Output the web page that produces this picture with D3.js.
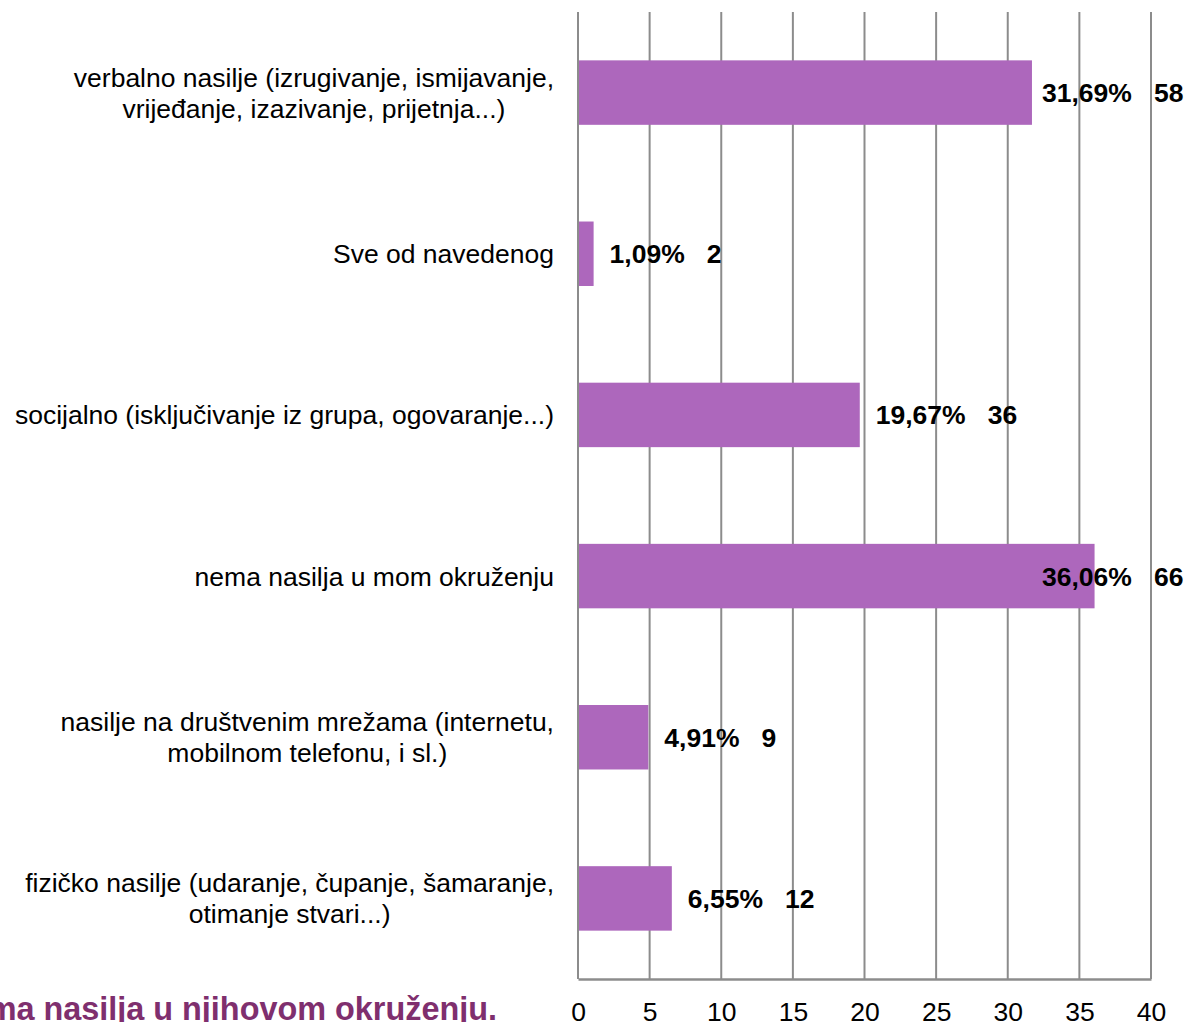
<!DOCTYPE html>
<html>
<head>
<meta charset="utf-8">
<script src="https://cdn.jsdelivr.net/npm/d3@7"></script>
<style>
  body { margin: 0; background: #fff; }
  svg { display: block; font-family: "Liberation Sans", Arial, sans-serif; }
</style>
</head>
<body>
<div id="chart"></div>
<script>
// data, top to bottom as in the picture
var categories = [
  ["verbalno nasilje (izrugivanje, ismijavanje,", "vrijeđanje, izazivanje, prijetnja...)"],
  ["Sve od navedenog"],
  ["socijalno (isključivanje iz grupa, ogovaranje...)"],
  ["nema nasilja u mom okruženju"],
  ["nasilje na društvenim mrežama (internetu,", "mobilnom telefonu, i sl.)"],
  ["fizičko nasilje (udaranje, čupanje, šamaranje,", "otimanje stvari...)"]
];
var percents = [31.69, 1.09, 19.67, 36.06, 4.91, 6.55];
var counts = [58, 2, 36, 66, 9, 12];
var xTicks = [0, 5, 10, 15, 20, 25, 30, 35, 40];
var footerText = "Većina učenika navodi da nema nasilja u njihovom okruženju.";

var W = 1189, H = 1022;
var plot = {left: 578, right: 1151, top: 12, bottom: 979};

var svg = d3.select("#chart").append("svg")
  .attr("width", W)
  .attr("height", H);

var x = d3.scaleLinear().domain([0, 40]).range([plot.left, plot.right]);
var y = d3.scaleBand()
  .domain(d3.range(categories.length))
  .range([plot.top, plot.bottom])
  .paddingInner(0.6)
  .paddingOuter(0.3);

// gridlines
svg.append("g")
  .selectAll("line")
  .data(xTicks)
  .enter().append("line")
    .attr("x1", d => x(d)).attr("x2", d => x(d))
    .attr("y1", plot.top).attr("y2", plot.bottom)
    .attr("stroke", "#8c8c8c")
    .attr("stroke-width", 2);

// bottom axis
var xAxis = svg.append("g")
  .attr("transform", "translate(0," + plot.bottom + ")")
  .call(d3.axisBottom(x).tickValues(xTicks).tickSize(0).tickPadding(23));
xAxis.select(".domain").attr("stroke", "#8c8c8c").attr("stroke-width", 2.5);
xAxis.selectAll("text")
  .attr("fill", "#000")
  .style("font-size", "26.5px")
  .style("font-family", "'Liberation Sans', Arial, sans-serif");

// bars
svg.append("g")
  .selectAll("rect")
  .data(percents)
  .enter().append("rect")
    .attr("x", x(0) + 1)
    .attr("y", (d, i) => y(i))
    .attr("width", d => x(d) - x(0) - 1)
    .attr("height", y.bandwidth())
    .attr("fill", "#ad67bc");

// value labels
svg.append("g")
  .selectAll("text")
  .data(percents)
  .enter().append("text")
    .attr("x", d => Math.min(x(d) + 16, 1042))
    .attr("y", (d, i) => y(i) + y.bandwidth() / 2)
    .attr("dy", "0.36em")
    .style("font-size", "26.5px")
    .style("font-weight", "bold")
    .style("white-space", "pre")
    .attr("xml:space", "preserve")
    .text((d, i) => d.toFixed(2).replace(".", ",") + "%   " + counts[i]);

// category labels, lines centred on each other, block right-aligned
var labelRight = 554, lineH = 31;
categories.forEach(function(lines, i) {
  var g = svg.append("g");
  var cy = y(i) + y.bandwidth() / 2;
  var texts = lines.map(function(line, j) {
    return g.append("text")
      .attr("y", cy + (j - (lines.length - 1) / 2) * lineH)
      .attr("dy", "0.36em")
      .attr("text-anchor", "middle")
      .style("font-size", "26.5px")
      .text(line);
  });
  var maxW = d3.max(texts, t => t.node().getComputedTextLength());
  texts.forEach(t => t.attr("x", labelRight - maxW / 2));
});

// footer text, cut off on the left
svg.append("text")
  .attr("x", 497)
  .attr("y", 1020)
  .attr("text-anchor", "end")
  .style("font-size", "32.4px")
  .style("font-weight", "bold")
  .attr("fill", "#7f2f6e")
  .text(footerText);
</script>
</body>
</html>
